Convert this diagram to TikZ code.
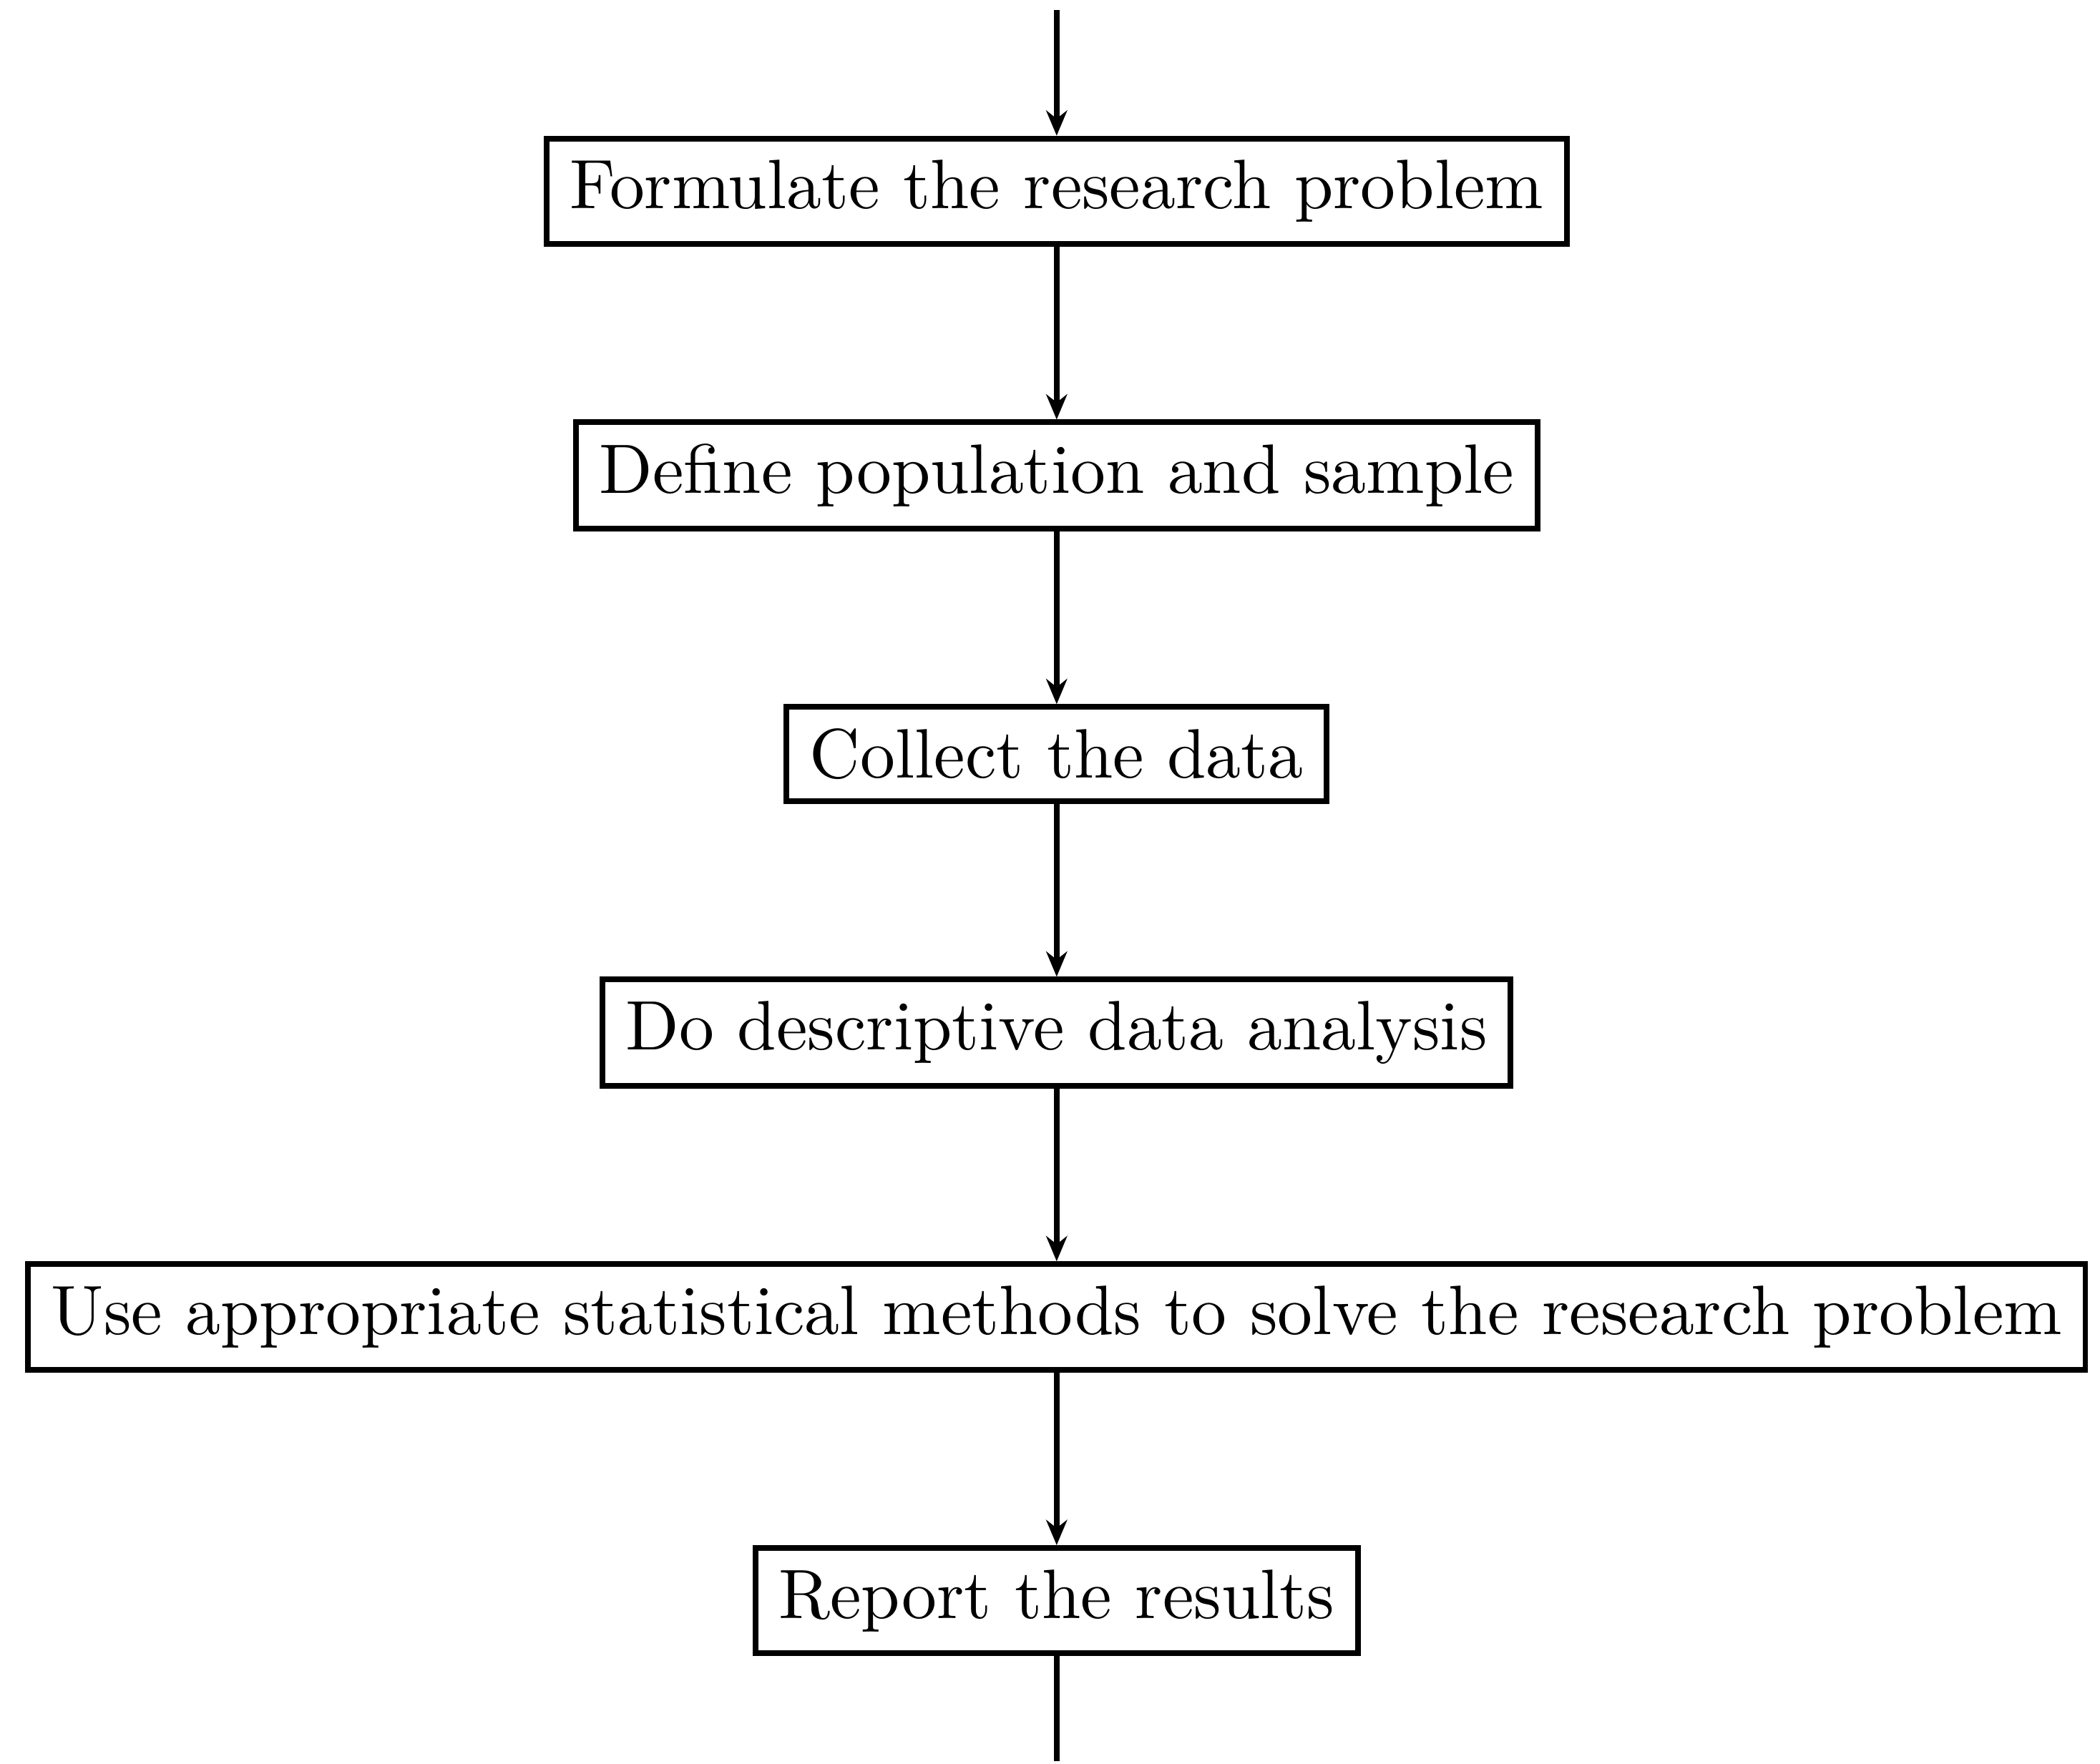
\documentclass[tikz,border=0pt]{standalone}
\usepackage{tikz}
\usetikzlibrary{arrows.meta, positioning}

\begin{document}
\begin{tikzpicture}[
        node distance=0.868cm,
        box/.style={draw, thick, inner ysep=3.1pt, align=center},
        flow/.style={thick, -{Stealth[length=3.6pt, width=3pt]}}
    ]
        \node[box] (prob) {Formulate the research problem};
        \node[box, below=of prob] (pop) {Define population and sample};
        \node[box, below=of pop] (collect) {Collect the data};
        \node[box, below=of collect] (desc) {Do descriptive data analysis};
        \node[box, below=of desc] (method) {Use appropriate statistical methods to solve the research problem};
        \node[box, below=of method] (report) {Report the results};

        \coordinate[above=18pt of prob] (start);
        \coordinate[below=15pt of report] (end);

        \draw[flow] (start) -- (prob);
        \draw[flow] (prob) -- (pop);
        \draw[flow] (pop) -- (collect);
        \draw[flow] (collect) -- (desc);
        \draw[flow] (desc) -- (method);
        \draw[flow] (method) -- (report);
        \draw[thick] (report) -- (end);

        \coordinate[left=3.6pt of method.west] (lft);
        \coordinate[right=1.7pt of method.east] (rgt);
        \coordinate[above=1.4pt of start] (top);
        \useasboundingbox (lft |- top) rectangle (rgt |- end);
    \end{tikzpicture}
\end{document}
